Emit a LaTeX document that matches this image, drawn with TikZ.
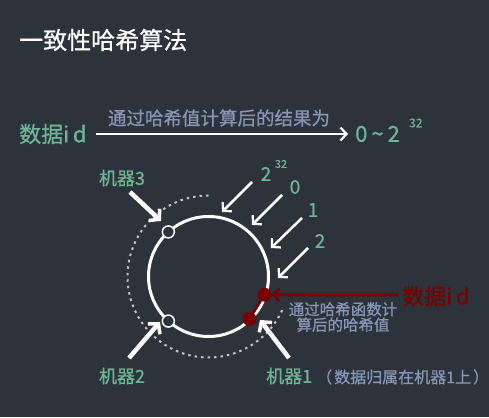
\documentclass[tikz,border=0pt]{standalone}
\usepackage{fontspec}
\setmainfont{Noto Sans CJK SC}[FakeBold=0.7]
\usetikzlibrary{arrows.meta,calc}
\definecolor{bg}{HTML}{2D333B}
\definecolor{grn}{HTML}{6DB596}
\definecolor{gblue}{HTML}{8797B5}
\definecolor{dred}{HTML}{7B0000}
\definecolor{dotg}{HTML}{BFC3C8}
\tikzset{
  thick arrow/.style={white, line width=4.5pt, -{Straight Barb[length=7pt,width=16pt,line width=3.5pt]}},
  thin arrow/.style={white, line width=2.5pt, -{Straight Barb[length=6pt,width=13pt,line width=2.2pt]}},
  greentext/.style={text=grn, inner sep=0pt},
  bluetext/.style={text=gblue, inner sep=0pt},
  numlabel/.style={text=grn, inner sep=0pt, font=\fontsize{19}{21}\selectfont},
  ringnode/.style={circle, draw=white, fill=bg, line width=1.5pt, minimum size=12pt, inner sep=0pt},
  reddot/.style={circle, fill=dred, minimum size=14pt, inner sep=0pt},
}
\begin{document}
\begin{tikzpicture}[x=1pt,y=1pt]
\fill[bg] (0,0) rectangle (489,417);
\useasboundingbox (0,0) rectangle (489,417);
% title
\node[anchor=west, text=white, inner sep=0pt, font=\fontsize{24}{26}\selectfont] (title) at (19,377) {一致性哈希算法};
% top row
\node[anchor=west, greentext, font=\fontsize{22}{24}\selectfont] (data) at (19,283) {数据i\,d};
\node[anchor=west, greentext, font=\fontsize{22}{24}\selectfont] (range) at (355,283) {0\hspace{4pt}\textasciitilde\hspace{4pt}2};
\node[anchor=west, greentext, font=\fontsize{12}{14}\selectfont] (rexp) at (409,294) {32};
\draw[white, line width=2.5pt, -{Straight Barb[length=6pt,width=13pt,line width=2.2pt]}] (data.east) ++(9,0) coordinate (astart) -- ($(range.west)+(-7,0)$) coordinate (aend);
\node[bluetext, font=\fontsize{18.5}{20}\selectfont] (calc) at (219,299) {通过哈希值计算后的结果为};
% ring
\coordinate (c) at (208.5,140.5);
\draw[dotg, line width=2pt, dash pattern=on 2.5pt off 4pt] ($(c)+(90:81)$) arc[start angle=90, end angle=337, radius=81];
\draw[white, line width=3pt] (c) circle[radius=60];
\node[ringnode] (m3) at ($(c)+(132:60)$) {};
\node[ringnode] (m2) at ($(c)+(228:60)$) {};
\node[reddot] (d1) at ($(c)+(-18:59)$) {};
\node[reddot] (d2) at ($(c)+(-46:59)$) {};
\draw[dred, line width=2.5pt] (d1) -- (d2);
% red data id
\node[anchor=west, text=dred, inner sep=0pt, font=\fontsize{22}{24}\selectfont] (rdata) at (402,121) {数据i\,d};
\draw[dred, line width=3pt, -{Straight Barb[length=6pt,width=13pt,line width=2.5pt]}] (rdata.west) ++(-4,1) coordinate (rstart) -- (d1.east);
\node[bluetext, font=\fontsize{15.5}{15.5}\selectfont, align=center] (hash) at (343,100) {通过哈希函数计\\算后的哈希值};
% machine labels
\node[greentext, font=\fontsize{18}{20}\selectfont] (l3) at (122,239) {机器3};
\node[greentext, font=\fontsize{18}{20}\selectfont] (l2) at (122,41) {机器2};
\node[anchor=west, greentext, font=\fontsize{18}{20}\selectfont] (l1) at (266,41) {机器1};
\node[anchor=west, bluetext, font=\fontsize{16}{18}\selectfont] (l1b) at (316,40) {（\hspace{2pt}数据归属在机器1上\hspace{2pt}）};
% thick arrows
\coordinate (s3) at (130,225); \coordinate (e3) at (161,196);
\coordinate (s2) at (129,59);  \coordinate (e2) at (160,95);
\coordinate (s1) at (289,59);  \coordinate (e1) at (260,97);
\draw[thick arrow] (s3) -- (e3);
\draw[thick arrow] (s2) -- (e2);
\draw[thick arrow] (s1) -- (e1);
% thin arrows with number labels
\node[numlabel] (n32) at (266,243) {2};
\node[greentext, font=\fontsize{11}{13}\selectfont] (n32e) at (281,253) {32};
\node[numlabel] (n0) at (295,230) {0};
\node[numlabel] (n1) at (313,207) {1};
\node[numlabel] (n2) at (320,176) {2};
\coordinate (t1s) at (252,235); \coordinate (t1e) at (222,205);
\coordinate (t2s) at (282,222); \coordinate (t2e) at (252,192);
\coordinate (t3s) at (302,199); \coordinate (t3e) at (271,169);
\coordinate (t4s) at (308,169); \coordinate (t4e) at (278,139);
\draw[thin arrow] (t1s) -- (t1e);
\draw[thin arrow] (t2s) -- (t2e);
\draw[thin arrow] (t3s) -- (t3e);
\draw[thin arrow] (t4s) -- (t4e);
\end{tikzpicture}
\end{document}
